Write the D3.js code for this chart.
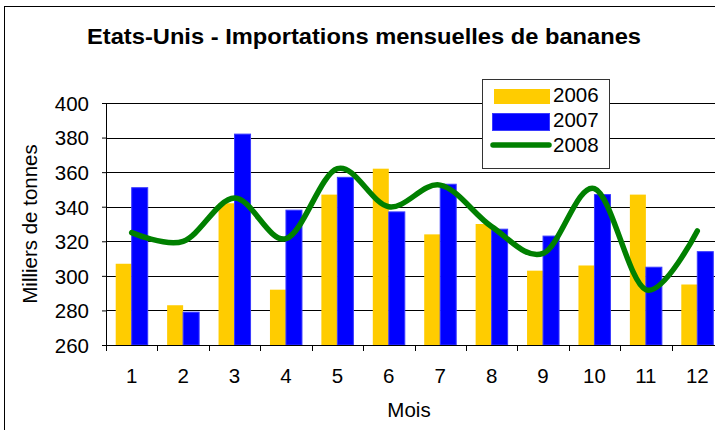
<!DOCTYPE html>
<html>
<head>
<meta charset="utf-8">
<script src="https://cdn.jsdelivr.net/npm/d3@7"></script>
<style>
  body { margin: 0; background: #fff; }
  text { font-family: "Liberation Sans", Arial, sans-serif; fill: #000; }
</style>
</head>
<body>
<div id="chart"></div>
<script>
// Data (milliers de tonnes)
const months = ["1", "2", "3", "4", "5", "6", "7", "8", "9", "10", "11", "12"];
const years = ["2006", "2007"];
const imports2006 = [307, 283, 342, 292, 347, 362, 324, 330, 303, 306, 347, 295];
const imports2007 = [351, 279, 382, 338, 357, 337, 353, 327, 323, 347, 305, 314];
const imports2008 = [325, 320, 345, 321.5, 362, 340, 352.5, 328.5, 313, 350.5, 292, 326];
const yTicks = [260, 280, 300, 320, 340, 360, 380, 400];

const W = 715, H = 430;
const margin = { top: 103, right: -8, bottom: 85, left: 106 };
const width = W - margin.left - margin.right;
const height = H - margin.top - margin.bottom;

const svg = d3.select("#chart")
    .append("svg")
    .attr("width", W)
    .attr("height", H);

// chart area border (cropped on right and bottom)
svg.append("rect")
    .attr("x", 4.5)
    .attr("y", 6.5)
    .attr("width", 900)
    .attr("height", 600)
    .attr("fill", "#fff")
    .attr("stroke", "#000");

const g = svg.append("g")
    .attr("transform", `translate(${margin.left},${margin.top})`);

const x = d3.scaleBand()
    .domain(months)
    .range([0, width]);

const pad = (x.bandwidth() - 32) / 2;
const x1 = d3.scaleBand()
    .domain(years)
    .range([pad, x.bandwidth() - pad]);

const y = d3.scaleLinear()
    .domain([260, 400])
    .range([height, 0]);

// gridlines
g.selectAll(".grid")
    .data(yTicks.slice(1))
    .enter().append("line")
    .attr("x1", 0)
    .attr("x2", width)
    .attr("y1", d => Math.round(y(d)) + 0.5)
    .attr("y2", d => Math.round(y(d)) + 0.5)
    .attr("stroke", "#000")
    .attr("stroke-width", 1);

// bars
const rows = months.map((m, i) => ({ month: m, values: [imports2006[i], imports2007[i]] }));
const groups = g.selectAll(".month")
    .data(rows)
    .enter().append("g")
    .attr("transform", d => `translate(${x(d.month)},0)`);

groups.append("rect")
    .attr("x", x1("2006"))
    .attr("y", d => y(d.values[0]))
    .attr("width", x1.bandwidth())
    .attr("height", d => height - y(d.values[0]))
    .attr("fill", "#ffcc00");

groups.append("rect")
    .attr("x", x1("2007"))
    .attr("y", d => y(d.values[1]))
    .attr("width", x1.bandwidth())
    .attr("height", d => height - y(d.values[1]))
    .attr("fill", "#0000ff")
    .attr("stroke", "#3a3aff")
    .attr("stroke-width", 1);

// 2008 smoothed line
const line = d3.line()
    .x((d, i) => x(months[i]) + x.bandwidth() / 2)
    .y(d => y(d))
    .curve(d3.curveCardinal.tension(0));

g.append("path")
    .datum(imports2008)
    .attr("fill", "none")
    .attr("stroke", "#008000")
    .attr("stroke-width", 5.5)
    .attr("stroke-linecap", "round")
    .attr("stroke-linejoin", "round")
    .attr("d", line);

// y axis
const yAxis = g.append("g")
    .call(d3.axisLeft(y).tickValues(yTicks).tickSize(4).tickPadding(13));
yAxis.select(".domain").attr("stroke", "#000");
yAxis.selectAll("text")
    .style("font-size", "20.5px")
    .style("font-family", "'Liberation Sans', Arial, sans-serif")
    .attr("dy", "0.36em");

// x axis: labels centred, ticks between categories
const xAxis = g.append("g")
    .attr("transform", `translate(0,${height})`)
    .call(d3.axisBottom(x).tickSize(0).tickPadding(23));
xAxis.select(".domain").attr("stroke", "#000");
xAxis.selectAll("text")
    .style("font-size", "20.5px")
    .style("font-family", "'Liberation Sans', Arial, sans-serif");

xAxis.selectAll(".sep")
    .data(months)
    .enter().append("line")
    .attr("x1", d => Math.round(x(d)) + 0.5)
    .attr("x2", d => Math.round(x(d)) + 0.5)
    .attr("y1", 0)
    .attr("y2", 6)
    .attr("stroke", "#000");

// titles
svg.append("text")
    .attr("x", 364)
    .attr("y", 44)
    .attr("text-anchor", "middle")
    .attr("textLength", 554)
    .attr("lengthAdjust", "spacingAndGlyphs")
    .style("font-size", "21.3px")
    .style("font-weight", "bold")
    .text("Etats-Unis - Importations mensuelles de bananes");

svg.append("text")
    .attr("x", 409)
    .attr("y", 417)
    .attr("text-anchor", "middle")
    .style("font-size", "20.5px")
    .text("Mois");

svg.append("text")
    .attr("transform", "translate(37,224) rotate(-90)")
    .attr("text-anchor", "middle")
    .style("font-size", "20.5px")
    .text("Milliers de tonnes");

// legend
const legend = svg.append("g").attr("transform", "translate(482,79)");
legend.append("rect")
    .attr("x", 0.5)
    .attr("y", 0.5)
    .attr("width", 127)
    .attr("height", 89)
    .attr("fill", "#fff")
    .attr("stroke", "#333");

legend.append("rect")
    .attr("x", 12).attr("y", 10)
    .attr("width", 56).attr("height", 15)
    .attr("fill", "#ffcc00");
legend.append("rect")
    .attr("x", 10.5).attr("y", 34.5)
    .attr("width", 57).attr("height", 17)
    .attr("fill", "#0000ff")
    .attr("stroke", "#3a3aff");
legend.append("line")
    .attr("x1", 11).attr("x2", 67)
    .attr("y1", 66).attr("y2", 66)
    .attr("stroke", "#008000")
    .attr("stroke-width", 5.5)
    .attr("stroke-linecap", "round");

const labels = ["2006", "2007", "2008"];
legend.selectAll(".lab")
    .data(labels)
    .enter().append("text")
    .attr("x", 71)
    .attr("y", (d, i) => 23 + i * 25)
    .style("font-size", "20.5px")
    .text(d => d);
</script>
</body>
</html>
